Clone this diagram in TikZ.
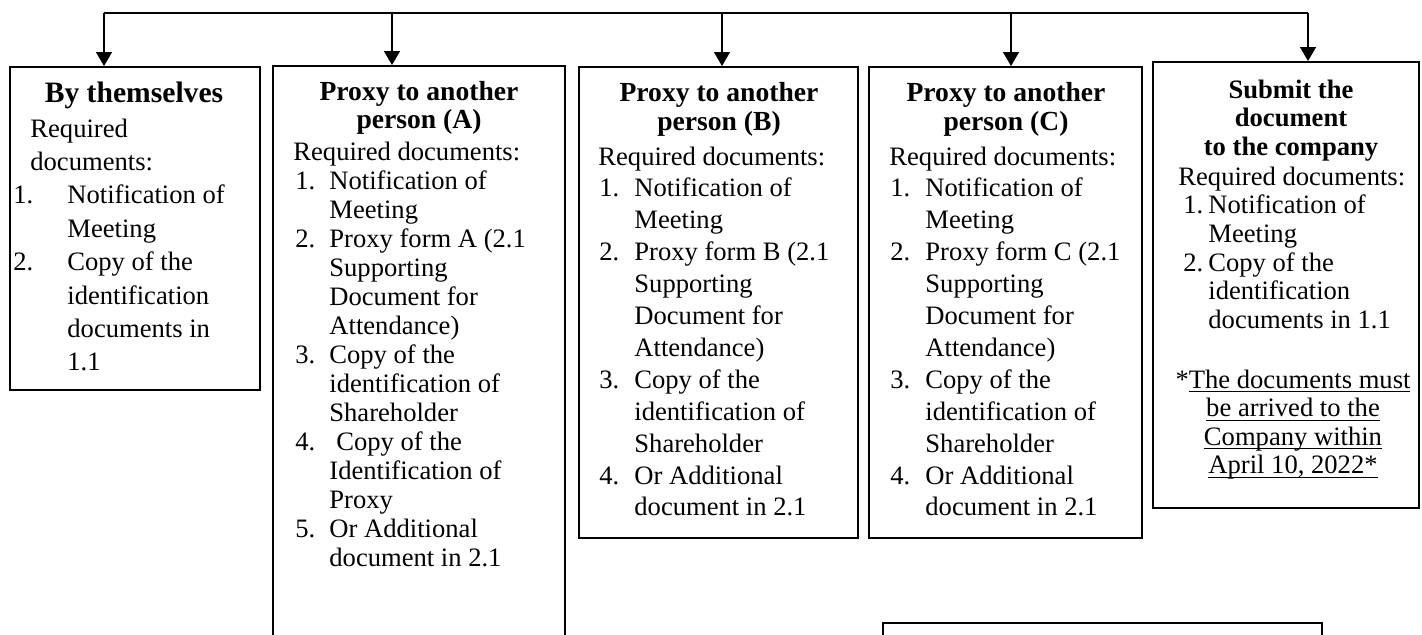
\documentclass[tikz,border=0pt]{standalone}
\usepackage{fontspec}
\setmainfont{Liberation Serif}
\usetikzlibrary{arrows.meta,fit}
\newcommand\hdtab[1]{\begin{tabular}[t]{@{}c@{}}#1\end{tabular}}
\newcommand\bdtab[1]{\begin{tabular}[t]{@{}l@{}}#1\end{tabular}}
\newlength\myulw
\newcommand\myul[1]{\settowidth\myulw{#1}\rlap{\rule[-2.2pt]{\myulw}{0.5pt}}#1}
\begin{document}
\begin{tikzpicture}[x=0.5pt,y=-0.5pt,
  box/.style={draw, line width=1pt, inner sep=0pt},
  conn/.style={line width=0.65pt},
  arr/.style={conn, -{Triangle[width=8pt,length=7pt]}},
  txt/.style={inner sep=0pt, anchor=base},
  bodytxt/.style={inner sep=0pt, anchor=base west}]
\clip (0,0) rectangle (1422,634);
\fill[white] (0,0) rectangle (1422,634);
% boxes
\node[box, fit={(10,67) (260,390)}] (b1) {};
\node[box, fit={(273,66) (565,670)}] (b2) {};
\node[box, fit={(579,67) (858,538)}] (b3) {};
\node[box, fit={(869,67) (1142,538)}] (b4) {};
\node[box, fit={(1153,62) (1419,508)}] (b5) {};
\node[box, fit={(883,623) (1322,670)}] (b6) {};
% connectors
\coordinate (t1) at (104,13);
\coordinate (t2) at (392,13);
\coordinate (t3) at (722,13);
\coordinate (t4) at (1011,13);
\coordinate (t5) at (1308,13);
\draw[conn] (t1) -- (t5);
\draw[arr] (t1) -- (t1 |- b1.north);
\draw[arr] (t2) -- (t2 |- b2.north);
\draw[arr] (t3) -- (t3 |- b3.north);
\draw[arr] (t4) -- (t4 |- b4.north);
\draw[arr] (t5) -- (t5 |- b5.north);
% box 1
\node[txt, font=\bfseries\fontsize{14.8pt}{16.7pt}\selectfont] (h1) at (134,102) {By themselves};
\node[bodytxt, font=\fontsize{13.3pt}{16.7pt}\selectfont] (d1) at (13,137) {\bdtab{%
\hspace*{8.5pt}Required\\
\hspace*{8.5pt}documents:\\
\makebox[27pt][l]{1.}Notification of\\
\hspace*{27pt}Meeting\\
\makebox[27pt][l]{2.}Copy of the\\
\hspace*{27pt}identification\\
\hspace*{27pt}documents in\\
\hspace*{27pt}1.1}};
% box 2
\node[txt, font=\bfseries\fontsize{13.8pt}{14pt}\selectfont] (h2) at (419,100) {\hdtab{Proxy to another\\person (A)}};
\node[bodytxt, font=\fontsize{13.3pt}{14.5pt}\selectfont] (d2) at (293,160) {\bdtab{%
Required documents:\\
\makebox[18pt][l]{\hspace*{1pt}1.}Notification of\\
\hspace*{18pt}Meeting\\
\makebox[18pt][l]{\hspace*{1pt}2.}Proxy form A (2.1\\
\hspace*{18pt}Supporting\\
\hspace*{18pt}Document for\\
\hspace*{18pt}Attendance)\\
\makebox[18pt][l]{\hspace*{1pt}3.}Copy of the\\
\hspace*{18pt}identification of\\
\hspace*{18pt}Shareholder\\
\makebox[18pt][l]{\hspace*{1pt}4.}\hspace*{3.5pt}Copy of the\\
\hspace*{18pt}Identification of\\
\hspace*{18pt}Proxy\\
\makebox[18pt][l]{\hspace*{1pt}5.}Or Additional\\
\hspace*{18pt}document in 2.1}};
% box 3
\node[txt, font=\bfseries\fontsize{13.8pt}{14.5pt}\selectfont] (h3) at (719,101) {\hdtab{Proxy to another\\person (B)}};
\node[bodytxt, font=\fontsize{13.3pt}{15.95pt}\selectfont] (d3) at (598,165) {\bdtab{%
Required documents:\\
\makebox[18pt][l]{\hspace*{0.5pt}1.}Notification of\\
\hspace*{18pt}Meeting\\
\makebox[18pt][l]{\hspace*{0.5pt}2.}Proxy form B (2.1\\
\hspace*{18pt}Supporting\\
\hspace*{18pt}Document for\\
\hspace*{18pt}Attendance)\\
\makebox[18pt][l]{\hspace*{0.5pt}3.}Copy of the\\
\hspace*{18pt}identification of\\
\hspace*{18pt}Shareholder\\
\makebox[18pt][l]{\hspace*{0.5pt}4.}Or Additional\\
\hspace*{18pt}document in 2.1}};
% box 4
\node[txt, font=\bfseries\fontsize{13.8pt}{14.5pt}\selectfont] (h4) at (1006,101) {\hdtab{Proxy to another\\person (C)}};
\node[bodytxt, font=\fontsize{13.3pt}{15.95pt}\selectfont] (d4) at (889,165) {\bdtab{%
Required documents:\\
\makebox[18pt][l]{\hspace*{0.5pt}1.}Notification of\\
\hspace*{18pt}Meeting\\
\makebox[18pt][l]{\hspace*{0.5pt}2.}Proxy form C (2.1\\
\hspace*{18pt}Supporting\\
\hspace*{18pt}Document for\\
\hspace*{18pt}Attendance)\\
\makebox[18pt][l]{\hspace*{0.5pt}3.}Copy of the\\
\hspace*{18pt}identification of\\
\hspace*{18pt}Shareholder\\
\makebox[18pt][l]{\hspace*{0.5pt}4.}Or Additional\\
\hspace*{18pt}document in 2.1}};
% box 5
\node[txt, font=\bfseries\fontsize{13.3pt}{14.25pt}\selectfont] (h5) at (1291,98) {\hdtab{Submit the\\document\\to the company}};
\node[bodytxt, font=\fontsize{13.3pt}{14.35pt}\selectfont] (d5) at (1178,185) {\bdtab{%
Required documents:\\
\makebox[15pt][l]{\hspace*{2.5pt}1.}Notification of\\
\hspace*{15pt}Meeting\\
\makebox[15pt][l]{\hspace*{2.5pt}2.}Copy of the\\
\hspace*{15pt}identification\\
\hspace*{15pt}documents in 1.1}};
\node[txt, font=\fontsize{13.3pt}{14.25pt}\selectfont] (n5) at (1293,388) {\hdtab{%
*\myul{The documents must}\\
\myul{be arrived to the}\\
\myul{Company within}\\
\myul{April 10, 2022*}}};
\end{tikzpicture}
\end{document}
